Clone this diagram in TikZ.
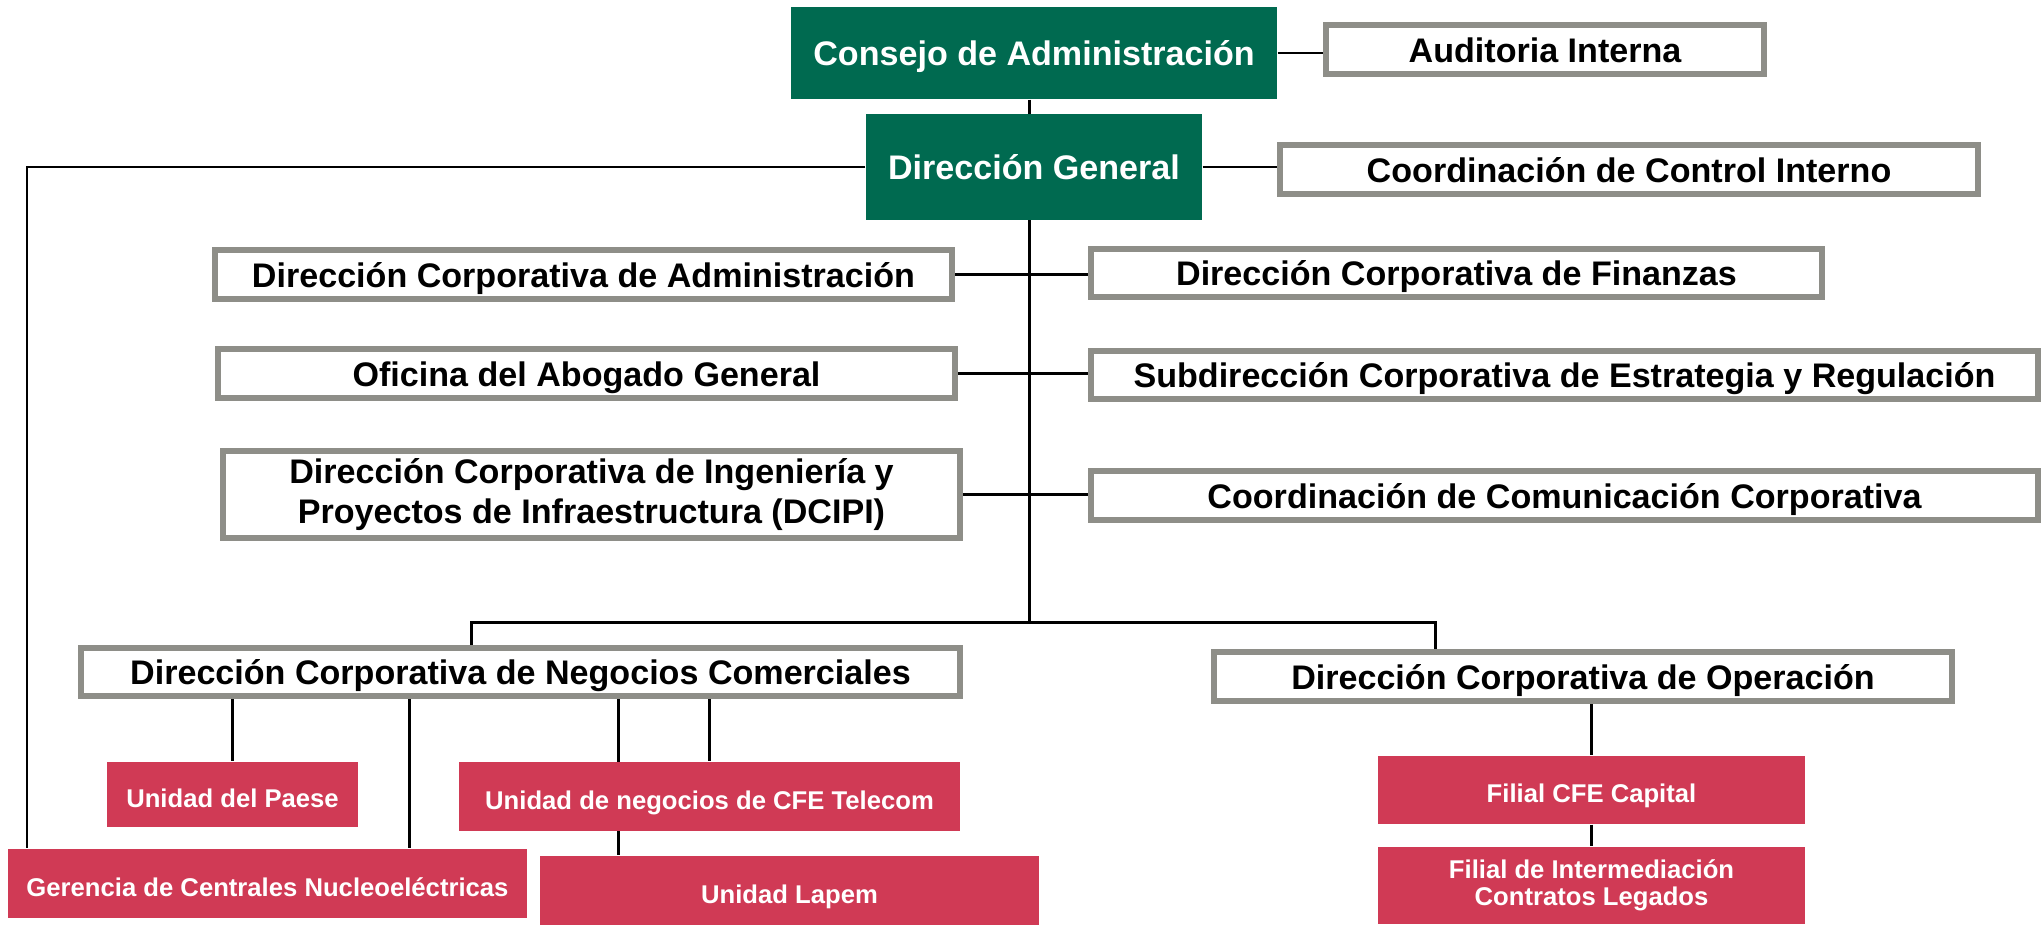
\documentclass[tikz,border=0pt]{standalone}
\usepackage{fontspec}
\setmainfont{Liberation Sans}
\usetikzlibrary{backgrounds}

\definecolor{cfegreen}{RGB}{0,106,80}
\definecolor{cfered}{RGB}{208,58,85}
\definecolor{boxgray}{RGB}{142,142,136}

\tikzset{
  oneline/.style={text height=0.72em, text depth=0pt},
  twolines/.style={text height={}, text depth={}},
  greenbox/.style={fill=cfegreen, text=white, inner sep=0pt, align=center, oneline,
    font=\fontsize{9.7}{11.2}\selectfont\bfseries},
  graybox/.style={draw=boxgray, line width=1.7pt, fill=white, inner sep=0pt, align=center, oneline,
    font=\fontsize{9.7}{11.2}\selectfont\bfseries},
  redbox/.style={fill=cfered, text=white, inner sep=0pt, align=center, oneline,
    font=\fontsize{7.3}{7.8}\selectfont\bfseries},
  link/.style={line width=0.85pt, black}
}

\begin{document}
\begin{tikzpicture}[x=0.1mm, y=-0.1mm]
            \useasboundingbox (0,0) rectangle (2043,926);

            % top of the chart
            \node[greenbox, minimum width=48.6mm, minimum height=9.2mm] (cons) at (1034,53) {Consejo de Administración};
            \node[graybox, minimum width=43.8mm, minimum height=4.9mm] (audit) at (1545,49.5) {Auditoria Interna};
            \node[greenbox, minimum width=33.6mm, minimum height=10.6mm] (dg) at (1034,167) {Dirección General};
            \node[graybox, minimum width=69.8mm, minimum height=4.9mm] (cci) at (1629,169.5) {Coordinación de Control Interno};

            % corporate offices
            \node[graybox, minimum width=73.7mm, minimum height=4.9mm] (dca) at (583.5,274.5) {Dirección Corporativa de Administración};
            \node[graybox, minimum width=73.1mm, minimum height=4.8mm] (dcf) at (1456.5,273) {Dirección Corporativa de Finanzas};
            \node[graybox, minimum width=73.7mm, minimum height=4.9mm] (oag) at (586.5,373.5) {Oficina del Abogado General};
            \node[graybox, minimum width=94.7mm, minimum height=4.8mm] (scer) at (1564.5,375) {Subdirección Corporativa de Estrategia y Regulación};
            \node[graybox, twolines, minimum width=73.7mm, minimum height=8.7mm] (dcipi) at (591.5,494.5) {Dirección Corporativa de Ingeniería y\\Proyectos de Infraestructura (DCIPI)};
            \node[graybox, minimum width=94.7mm, minimum height=4.9mm] (ccc) at (1564.5,495.5) {Coordinación de Comunicación Corporativa};
            \node[graybox, minimum width=87.9mm, minimum height=4.8mm] (dcnc) at (520.5,672) {Dirección Corporativa de Negocios Comerciales};
            \node[graybox, minimum width=73.8mm, minimum height=4.9mm] (dco) at (1583,676.5) {Dirección Corporativa de Operación};

            % units and subsidiaries
            \node[redbox, minimum width=25.1mm, minimum height=6.5mm] (paese) at (232.5,794.5) {Unidad del Paese};
            \node[redbox, minimum width=50.1mm, minimum height=6.9mm] (telecom) at (709.5,796.5) {Unidad de negocios de CFE Telecom};
            \node[redbox, minimum width=51.9mm, minimum height=6.9mm] (gcn) at (267.5,883.5) {Gerencia de Centrales Nucleoeléctricas};
            \node[redbox, minimum width=49.9mm, minimum height=6.9mm] (lapem) at (789.5,890.5) {Unidad Lapem};
            \node[redbox, minimum width=42.7mm, minimum height=6.8mm] (capital) at (1591.5,790) {Filial CFE Capital};
            \node[redbox, twolines, minimum width=42.7mm, minimum height=7.7mm] (inter) at (1591.5,885.5) {Filial de Intermediación\\Contratos Legados};

            \coordinate (bus) at (1029,622);
            \coordinate (busL) at (471,622);
            \coordinate (busR) at (1435,622);
            \coordinate (corner) at (27,167);
            \coordinate (gl) at (409,0);
            \coordinate (tl) at (618,0);

            \begin{scope}[on background layer]
            \draw[link] (cons.east) -- (cons.east -| audit.west);
            \draw[link] (dg.east) -- (dg.east -| cci.west);
            \draw[link] (cons.south -| bus) -- (bus);
            \draw[link] (dg.west) -- (corner) -- (corner |- gcn.north);
            \draw[link] (dca.east) -- (dca.east -| dcf.west);
            \draw[link] (oag.east) -- (oag.east -| scer.west);
            \draw[link] (dcipi.east) -- (dcipi.east -| ccc.west);
            \draw[link] (busL |- dcnc.north) -- (busL) -- (busR) -- (busR |- dco.north);
            \draw[link] (paese.north |- dcnc.south) -- (paese.north);
            \draw[link] (gl |- dcnc.south) -- (gl |- gcn.north);
            \draw[link] (tl |- dcnc.south) -- (tl |- lapem.north);
            \draw[link] (telecom.north |- dcnc.south) -- (telecom.north);
            \draw[link] (capital.north |- dco.south) -- (capital.north);
            \draw[link] (capital.south) -- (inter.north);
            \end{scope}
        \end{tikzpicture}
\end{document}
